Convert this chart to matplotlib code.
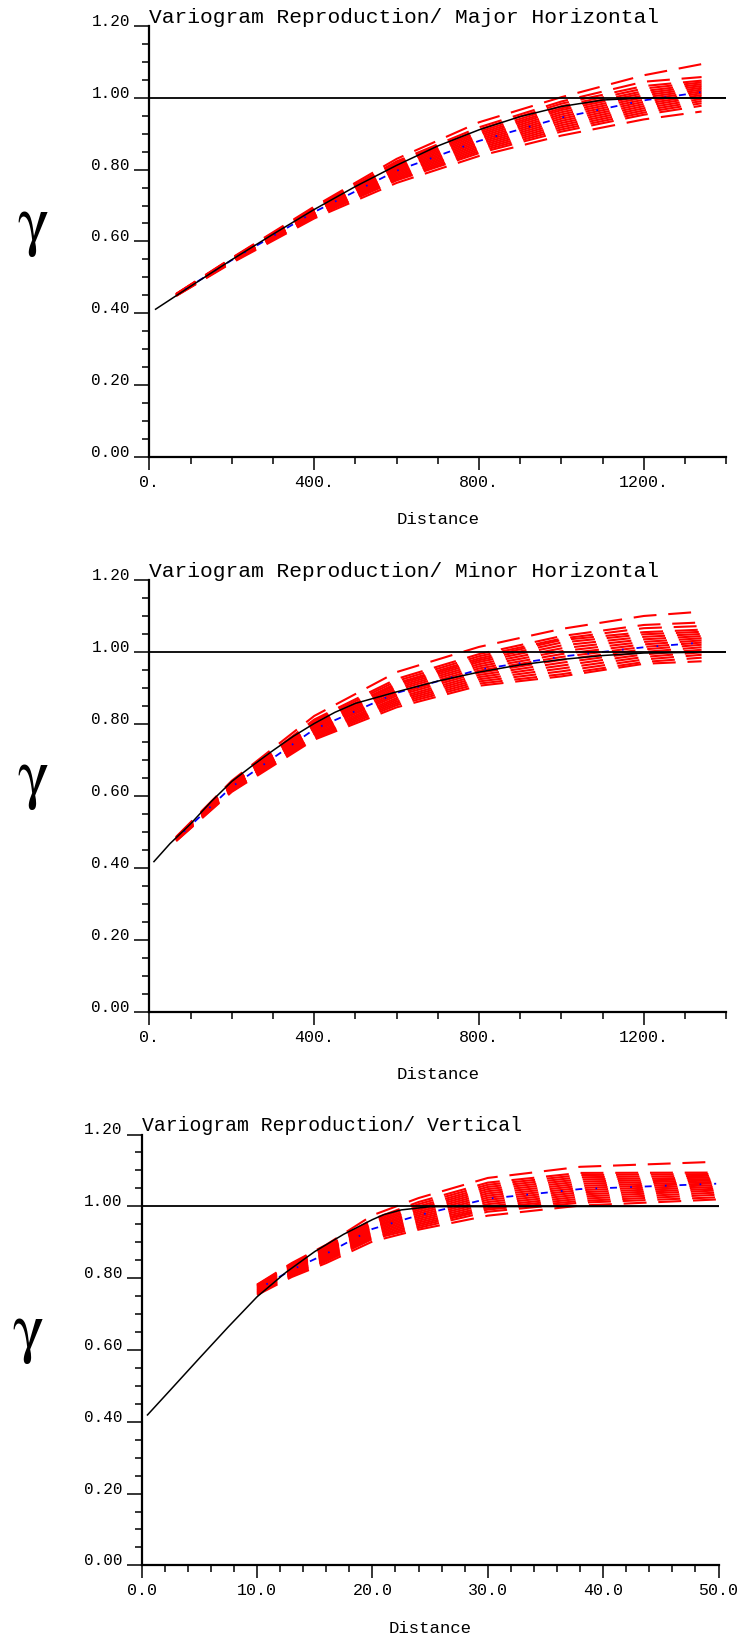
import numpy as np
import matplotlib
matplotlib.use('Agg')
import matplotlib.pyplot as plt
from matplotlib.ticker import MultipleLocator

matplotlib.rcParams['font.family'] = 'Liberation Mono'
matplotlib.rcParams['lines.scale_dashes'] = False

W, H = 743., 1638.

# ---------------- major horizontal ----------------
major_lags = [65, 200, 400, 600, 800, 1000, 1200, 1340]
major_real = [
    [0.454, 0.554, 0.697, 0.830, 0.932, 1.002, 1.063, 1.094],
    [0.453, 0.553, 0.694, 0.823, 0.918, 0.990, 1.045, 1.058],
    [0.453, 0.552, 0.693, 0.820, 0.912, 0.984, 1.033, 1.048],
    [0.453, 0.552, 0.691, 0.816, 0.906, 0.977, 1.026, 1.043],
    [0.452, 0.551, 0.689, 0.813, 0.901, 0.971, 1.019, 1.038],
    [0.452, 0.550, 0.687, 0.809, 0.896, 0.966, 1.013, 1.033],
    [0.452, 0.550, 0.685, 0.805, 0.891, 0.960, 1.007, 1.028],
    [0.451, 0.549, 0.684, 0.801, 0.886, 0.954, 1.001, 1.023],
    [0.451, 0.548, 0.682, 0.797, 0.881, 0.948, 0.995, 1.018],
    [0.451, 0.547, 0.680, 0.793, 0.876, 0.942, 0.989, 1.013],
    [0.450, 0.546, 0.678, 0.789, 0.871, 0.936, 0.983, 1.008],
    [0.450, 0.546, 0.676, 0.785, 0.866, 0.930, 0.977, 1.003],
    [0.450, 0.545, 0.674, 0.781, 0.861, 0.924, 0.971, 0.997],
    [0.449, 0.544, 0.672, 0.777, 0.856, 0.918, 0.965, 0.991],
    [0.449, 0.543, 0.670, 0.773, 0.851, 0.912, 0.959, 0.985],
    [0.449, 0.542, 0.668, 0.770, 0.846, 0.906, 0.953, 0.978],
    [0.448, 0.540, 0.664, 0.763, 0.838, 0.895, 0.940, 0.962],
]
major_mean = [0.451, 0.548, 0.682, 0.797, 0.880, 0.945, 0.993, 1.016]
major_model_lags = [15, 100, 200, 300, 400, 500, 600, 700, 800, 900, 1000, 1100, 1200, 1400]
major_model = [0.411, 0.475, 0.549, 0.620, 0.689, 0.753, 0.812, 0.866, 0.911, 0.948, 0.976, 0.994, 1.0, 1.0]

# ---------------- minor horizontal ----------------
minor_lags = [65, 200, 400, 600, 800, 1000, 1200, 1340]
minor_real = [
    [0.486, 0.642, 0.822, 0.944, 1.014, 1.064, 1.100, 1.112],
    [0.485, 0.637, 0.812, 0.925, 0.994, 1.044, 1.075, 1.082],
    [0.485, 0.635, 0.808, 0.919, 0.988, 1.037, 1.066, 1.072],
    [0.484, 0.633, 0.803, 0.913, 0.982, 1.033, 1.055, 1.062],
    [0.484, 0.632, 0.800, 0.909, 0.977, 1.026, 1.049, 1.056],
    [0.483, 0.630, 0.796, 0.904, 0.972, 1.018, 1.042, 1.050],
    [0.482, 0.629, 0.793, 0.899, 0.966, 1.010, 1.035, 1.044],
    [0.481, 0.627, 0.789, 0.894, 0.960, 1.002, 1.028, 1.038],
    [0.480, 0.625, 0.786, 0.888, 0.954, 0.994, 1.021, 1.032],
    [0.480, 0.624, 0.782, 0.883, 0.948, 0.986, 1.014, 1.026],
    [0.479, 0.622, 0.779, 0.878, 0.942, 0.978, 1.007, 1.020],
    [0.478, 0.620, 0.775, 0.872, 0.936, 0.970, 1.000, 1.013],
    [0.477, 0.619, 0.771, 0.867, 0.930, 0.962, 0.993, 1.006],
    [0.477, 0.617, 0.768, 0.862, 0.924, 0.954, 0.986, 0.999],
    [0.476, 0.615, 0.764, 0.857, 0.918, 0.946, 0.979, 0.992],
    [0.475, 0.613, 0.760, 0.852, 0.912, 0.938, 0.972, 0.984],
    [0.474, 0.611, 0.756, 0.846, 0.906, 0.932, 0.967, 0.974],
]
minor_mean = [0.480, 0.625, 0.785, 0.886, 0.951, 0.987, 1.013, 1.026]
minor_model_lags = [11, 50, 100, 150, 200, 250, 300, 350, 400, 450, 500, 600, 700, 800, 900, 1000, 1100, 1200, 1400]
minor_model = [0.417, 0.467, 0.522, 0.584, 0.640, 0.684, 0.726, 0.766, 0.801, 0.832, 0.857, 0.889, 0.919, 0.944,
               0.964, 0.979, 0.990, 0.997, 1.0]

# ---------------- vertical ----------------
vert_lags = [10, 13, 16, 20, 24, 30, 38, 49.8]
vert_real = [
    [0.782, 0.842, 0.893, 0.975, 1.023, 1.079, 1.110, 1.124],
    [0.781, 0.839, 0.888, 0.964, 1.012, 1.066, 1.093, 1.094],
    [0.780, 0.837, 0.885, 0.960, 1.006, 1.060, 1.087, 1.090],
    [0.778, 0.835, 0.882, 0.956, 1.000, 1.054, 1.081, 1.085],
    [0.777, 0.833, 0.879, 0.952, 0.995, 1.048, 1.075, 1.080],
    [0.775, 0.830, 0.876, 0.948, 0.990, 1.042, 1.069, 1.076],
    [0.773, 0.828, 0.873, 0.944, 0.985, 1.036, 1.063, 1.072],
    [0.771, 0.826, 0.871, 0.941, 0.980, 1.030, 1.057, 1.068],
    [0.769, 0.824, 0.868, 0.937, 0.975, 1.024, 1.051, 1.064],
    [0.767, 0.822, 0.865, 0.933, 0.970, 1.018, 1.045, 1.059],
    [0.765, 0.820, 0.862, 0.929, 0.965, 1.012, 1.039, 1.054],
    [0.763, 0.817, 0.859, 0.925, 0.960, 1.006, 1.033, 1.049],
    [0.761, 0.815, 0.856, 0.921, 0.955, 1.000, 1.027, 1.044],
    [0.759, 0.812, 0.853, 0.917, 0.950, 0.995, 1.021, 1.038],
    [0.757, 0.810, 0.850, 0.913, 0.945, 0.991, 1.015, 1.032],
    [0.755, 0.807, 0.847, 0.909, 0.940, 0.985, 1.010, 1.025],
    [0.753, 0.803, 0.842, 0.902, 0.935, 0.974, 1.002, 1.019],
]
vert_mean = [0.768, 0.823, 0.868, 0.937, 0.975, 1.021, 1.048, 1.063]
vert_model_lags = [0.5, 2.5, 5, 7.5, 10, 12.5, 15, 17.5, 20, 21, 22.5, 25, 50]
vert_model = [0.419, 0.489, 0.577, 0.664, 0.748, 0.816, 0.874, 0.922, 0.963, 0.977, 0.990, 0.999, 1.0]

titles = ['Variogram Reproduction/ Major Horizontal',
          'Variogram Reproduction/ Minor Horizontal',
          'Variogram Reproduction/ Vertical']

big_ticks = [[0, 400, 800, 1200], [0, 400, 800, 1200], [0, 10, 20, 30, 40, 50]]
big_labels = [['0.', '400.', '800.', '1200.'], ['0.', '400.', '800.', '1200.'],
              ['0.0', '10.0', '20.0', '30.0', '40.0', '50.0']]


def px_rect(x0, x1, ytop, ybot):
    return [x0 / W, 1 - ybot / H, (x1 - x0) / W, (ybot - ytop) / H]


def draw_panel(fig, rect, title, tsize, lags, reals, mean, mlags, model, xmax, xticks, xlabels, xminor, gy):
    ax = fig.add_axes(rect)
    for r in reals:
        ax.plot(lags, r, color='red', lw=1.5, linestyle=(0, (16.5, 8.5)), zorder=2)
    ax.plot(lags, mean, color='blue', lw=1.3, linestyle=(17.3, (1.2, 9.3, 5.0, 9.5)), zorder=3)
    ax.plot(mlags, model, color='black', lw=1.1, zorder=4)
    ax.axhline(1.0, color='black', lw=1.3, zorder=4)

    ax.set_xlim(0, xmax)
    ax.set_ylim(0, 1.2)
    for s in ['top', 'right']:
        ax.spines[s].set_visible(False)
    for s in ['left', 'bottom']:
        ax.spines[s].set_linewidth(1.6)

    ax.set_xticks(xticks)
    ax.set_xticklabels(xlabels)
    ax.xaxis.set_minor_locator(MultipleLocator(xminor))
    ax.set_yticks(np.arange(0, 1.21, 0.2))
    ax.set_yticklabels(['%.2f' % v for v in np.arange(0, 1.21, 0.2)])
    ax.yaxis.set_minor_locator(MultipleLocator(0.05))
    ax.tick_params(axis='x', which='major', length=9, width=1.1, pad=4, labelsize=12)
    ax.tick_params(axis='x', which='minor', length=5, width=1.1)
    ax.tick_params(axis='y', which='major', length=11, width=1.1, pad=3, labelsize=11.5)
    ax.tick_params(axis='y', which='minor', length=5, width=1.1)
    for lbl in ax.get_yticklabels():
        lbl.set_verticalalignment('baseline')

    ax.set_xlabel('Distance', fontsize=12.5, labelpad=16)
    ax.text(0.0, 1.0 + 3.5 / (rect[3] * H), title, transform=ax.transAxes,
            ha='left', va='baseline', fontsize=tsize)
    fig.text(gy[0] / W, 1 - gy[1] / H, '\u03b3', family='STIXGeneral',
             fontsize=48, ha='center', va='center')
    return ax


fig = plt.figure(figsize=(W / 100, H / 100), dpi=100)

draw_panel(fig, px_rect(149.4, 726.3, 26.1, 456.7), titles[0], 15.3, major_lags, major_real, major_mean,
           major_model_lags, major_model, 1400, big_ticks[0], big_labels[0], 100, (33, 227))
draw_panel(fig, px_rect(149.4, 726.3, 580.0, 1011.6), titles[1], 15.3, minor_lags, minor_real, minor_mean,
           minor_model_lags, minor_model, 1400, big_ticks[1], big_labels[1], 100, (33, 780))
draw_panel(fig, px_rect(141.7, 718.5, 1134.5, 1565.4), titles[2], 14.2, vert_lags, vert_real, vert_mean,
           vert_model_lags, vert_model, 50, big_ticks[2], big_labels[2], 2, (28, 1334))

fig.savefig('out.png', dpi=100)
